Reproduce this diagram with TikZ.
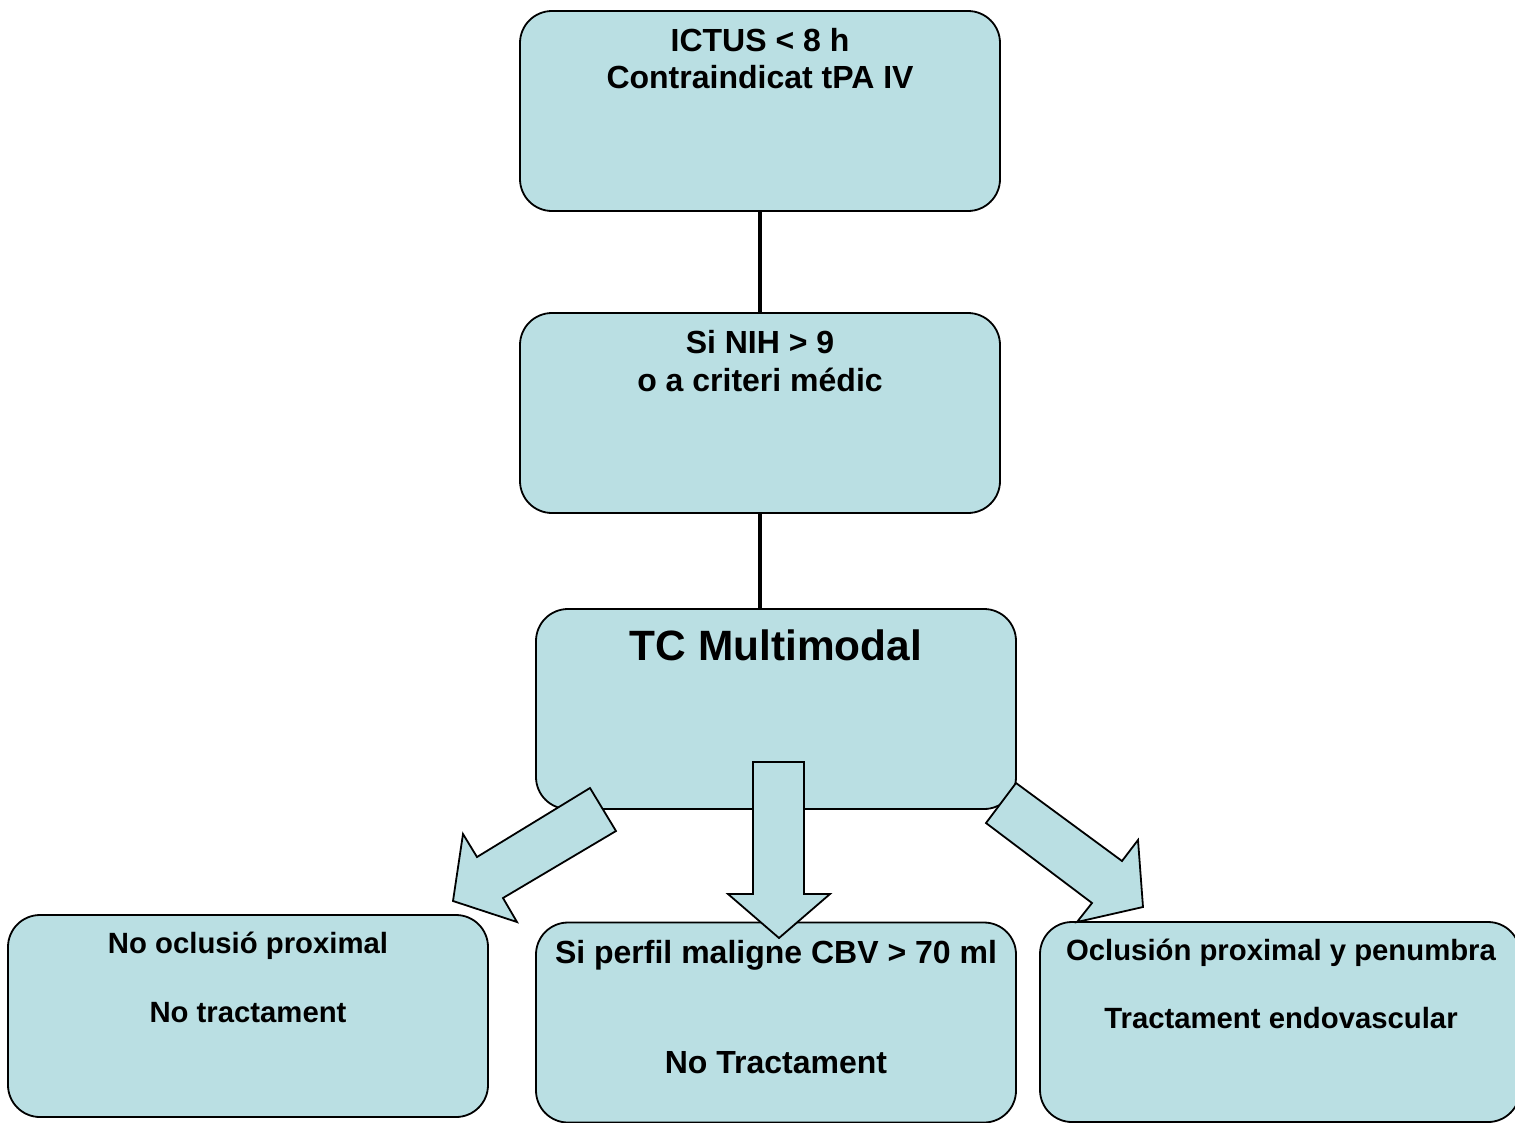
\documentclass[tikz,border=0pt]{standalone}
\usepackage{fontspec}
\setmainfont{Liberation Sans}
\definecolor{boxfill}{RGB}{186,223,227}
\begin{document}
\begin{tikzpicture}[x=1pt,y=-1pt,
  box/.style={draw=black, line width=1.8pt, fill=boxfill, rounded corners=32pt,
    minimum width=480pt, minimum height=200pt, inner sep=0pt},
  blockarrow/.style={draw=black, line width=1.8pt, fill=boxfill, line join=miter},
  link/.style={draw=black, line width=4.5pt},
  lbl/.style={anchor=base, inner sep=0pt, font=\bfseries\fontsize{32}{38}\selectfont},
  lblsmall/.style={anchor=base, inner sep=0pt, font=\bfseries\fontsize{29.3}{35}\selectfont},
  lblbig/.style={anchor=base, inner sep=0pt, font=\bfseries\fontsize{42.4}{50}\selectfont}]
\useasboundingbox (0,0) rectangle (1515,1122);

% boxes
\node[box] (ictus) at (760,111) {};
\node[box] (nih) at (760,413) {};
\node[box] (tc) at (776,709) {};
\node[box, minimum height=202pt] (noocl) at (248,1016) {};
\node[box] (perfil) at (776,1022.5) {};
\node[box] (oclus) at (1280,1022) {};

% connectors
\draw[link] (ictus.south) -- (nih.north);
\draw[link] (nih.south) -- (nih.south |- tc.north);

% texts
\node[lbl] (t1a) at (760,51) {ICTUS < 8 h};
\node[lbl] (t1b) at (760,88) {Contraindicat tPA IV};
\node[lbl] (t2a) at (760,353) {Si NIH > 9};
\node[lbl] (t2b) at (760,391) {o a criteri médic};
\node[lblbig] (t3) at (776,660) {TC Multimodal};
\node[lblsmall] (t4a) at (248,953) {No oclusió proximal};
\node[lblsmall] (t4b) at (248,1022) {No tractament};
\node[lbl] (t5a) at (776,963) {Si perfil maligne CBV > 70 ml};
\node[lbl] (t5b) at (776,1073) {No Tractament};
\node[lblsmall] (t6a) at (1281,960) {Oclusión proximal y penumbra};
\node[lblsmall] (t6b) at (1281,1028) {Tractament endovascular};

% block arrows
\draw[blockarrow] (590,788) -- (616,831) -- (503,898) -- (517,922) -- (453,901)
  -- (463,834) -- (477,857) -- cycle;
\draw[blockarrow] (753,762) -- (804,762) -- (804,894) -- (830,894) -- (779,938)
  -- (728,894) -- (753,894) -- cycle;
\draw[blockarrow] (1016,783) -- (986,823) -- (1092,903) -- (1077,922) -- (1143,907)
  -- (1138,840) -- (1122,861) -- cycle;
\end{tikzpicture}
\end{document}
